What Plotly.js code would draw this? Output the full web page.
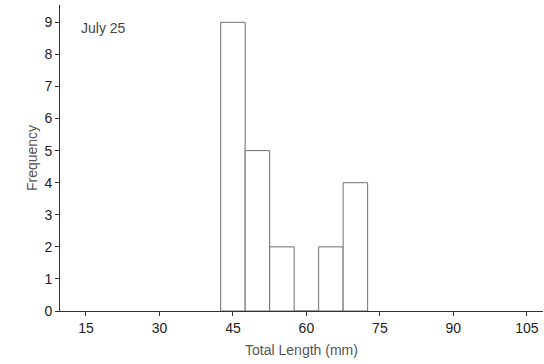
<!DOCTYPE html>
<html>
<head>
<meta charset="utf-8">
<script src="https://cdn.plot.ly/plotly-3.0.1.min.js"></script>
<style>html,body{margin:0;padding:0;background:#fff;}#chart{width:544px;height:364px;}</style>
</head>
<body>
<div id="chart"></div>
<script>
// Bin centres (mm), bin width 5 mm
const binCenters = [45, 50, 55, 60, 65, 70];
const frequencies = [9, 5, 2, 0, 2, 4];
const binWidth = 5;
const xTickVals = [15, 30, 45, 60, 75, 90, 105];
const yTickVals = [0, 1, 2, 3, 4, 5, 6, 7, 8, 9];
const panelLabel = "July 25";

const trace = {
  type: 'bar',
  x: binCenters,
  y: frequencies,
  width: binCenters.map(() => binWidth),
  marker: {color: '#ffffff', line: {color: '#6e6e6e', width: 1}},
  hoverinfo: 'x+y'
};

const layout = {
  width: 544, height: 364,
  margin: {l: 60, r: 1, t: 5, b: 53},
  paper_bgcolor: '#fff', plot_bgcolor: '#fff',
  font: {family: 'Liberation Sans, Arial, sans-serif', size: 14, color: '#222'},
  showlegend: false,
  bargap: 0,
  xaxis: {
    range: [9.7, 108.3],
    tickvals: xTickVals,
    ticks: 'outside', ticklen: 4, tickcolor: '#333',
    showline: true, linecolor: '#333', linewidth: 1,
    showgrid: false, zeroline: false,
    title: {text: 'Total Length (mm)', font: {size: 14, color: '#555'}, standoff: 10}
  },
  yaxis: {
    range: [0, 9.54],
    tickvals: yTickVals,
    ticks: 'outside', ticklen: 4, tickcolor: '#333',
    showline: true, linecolor: '#333', linewidth: 1,
    showgrid: false, zeroline: false,
    title: {text: 'Frequency', font: {size: 14, color: '#555'}, standoff: 3}
  },
  annotations: [{
    text: panelLabel, xref: 'paper', yref: 'paper',
    x: 0.04, y: 0.925, xanchor: 'left', yanchor: 'middle',
    showarrow: false, font: {size: 14, color: '#444'}
  }]
};

Plotly.newPlot('chart', [trace], layout, {displayModeBar: false, staticPlot: true});
</script>
</body>
</html>
